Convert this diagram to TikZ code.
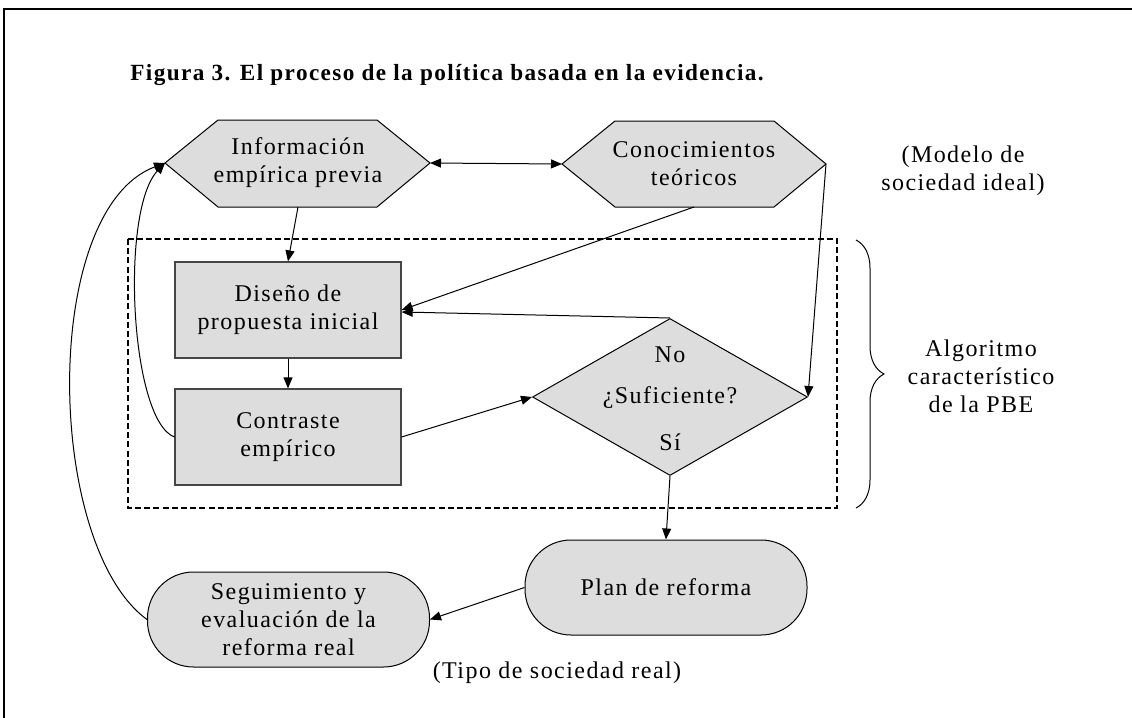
\documentclass[tikz,border=0pt]{standalone}
\usepackage{fontspec}
\setmainfont{Liberation Serif}[LetterSpace=6]
\usetikzlibrary{arrows.meta,decorations.pathreplacing,shapes.geometric}
\definecolor{boxgray}{RGB}{221,221,221}
\definecolor{edgegray}{RGB}{70,70,70}
\begin{document}
\begin{tikzpicture}[x=0.5pt,y=-0.5pt,
  txt/.style={align=center,font=\fontsize{12}{14}\selectfont,inner sep=0pt},
  shapefill/.style={fill=boxgray,draw=black,line width=0.5pt},
  box/.style={rectangle,fill=boxgray,draw=edgegray,line width=0.6pt,minimum width=113pt,minimum height=48pt,txt},
  stadium/.style={rectangle,rounded corners=23pt,fill=boxgray,draw=black,line width=0.5pt,minimum width=141pt,minimum height=47.5pt,txt},
  tip/.style={Triangle[length=5.5pt,width=4.5pt]},
  arr/.style={line width=0.5pt,-{Triangle[length=5.5pt,width=4.5pt]}},
  dblarr/.style={line width=0.5pt,{Triangle[length=5.5pt,width=4.5pt]}-{Triangle[length=5.5pt,width=4.5pt]}}]
\useasboundingbox (0,0) rectangle (1132,718);
\draw[line width=1.2pt] (4,718) -- (4,9) -- (1132,9);
\node[anchor=base west,inner sep=0pt,font=\fontsize{11.6}{13}\selectfont\bfseries] (title) at (130,80) {Figura 3. El proceso de la política basada en la evidencia.};
% hexagons
\draw[shapefill] (165,163) -- (218,120) -- (377,120) -- (430,163) -- (377,207) -- (218,207) -- cycle;
\node[txt] (info) at (298,163) {Información\\empírica previa};
\draw[shapefill] (562,164) -- (615,121) -- (774,121) -- (826,164) -- (774,207) -- (615,207) -- cycle;
\node[txt] (con) at (694,164) {Conocimientos\\teóricos};
\coordinate (infoW) at (165,163);
\coordinate (infoE) at (430,163);
\coordinate (infoS) at (298,207);
\coordinate (conW) at (562,164);
\coordinate (conE) at (826,164);
\coordinate (conS) at (694,207);
\node[txt] (modelo) at (963,171) {(Modelo de\\sociedad ideal)};
% dashed region
\draw[line width=1pt,dash pattern=on 3pt off 1.6pt] (128,239) rectangle (837,508);
\draw[line width=0.5pt,decorate,decoration={brace,amplitude=14pt}] (856,240) -- (856,508);
\node[txt] (alg) at (981,376) {Algoritmo\\característico\\de la PBE};
% boxes
\node[box] (dis) at (288,310) {Diseño de\\propuesta inicial};
\node[box] (cont) at (288,437) {Contraste\\empírico};
\node[diamond,fill=boxgray,draw=black,line width=0.5pt,minimum width=137.5pt,minimum height=78.5pt,inner sep=0pt] (suf) at (670,397) {};
\node[txt] (no) at (670,355) {No};
\node[txt] (suft) at (670,398) {¿Suficiente?};
\node[txt] (si) at (670,442) {Sí};
\node[stadium] (plan) at (666,587.5) {Plan de reforma};
\node[stadium] (seg) at (288.5,619.5) {Seguimiento y\\evaluación de la\\reforma real};
\node[txt] (tipo) at (557,673) {(Tipo de sociedad real)};
% connectors
\draw[dblarr] (infoE) -- (conW);
\draw[arr] (infoS) -- (dis.north);
\draw[arr] (conS) -- (dis.east);
\draw[arr] (suf.north) -- ([yshift=-1pt]dis.east);
\draw[arr] (dis.south) -- (cont.north);
\draw[arr] (cont.east) -- (suf.west);
\draw[arr] (conE) -- (suf.east);
\draw[arr] (suf.south) -- (plan.north);
\draw[arr] (plan.west) -- (seg.east);
\draw[arr] (seg.west) .. controls (45,545) and (40,210) .. (infoW);
\draw[arr] (cont.west) .. controls (130,420) and (120,210) .. (infoW);
\end{tikzpicture}
\end{document}
